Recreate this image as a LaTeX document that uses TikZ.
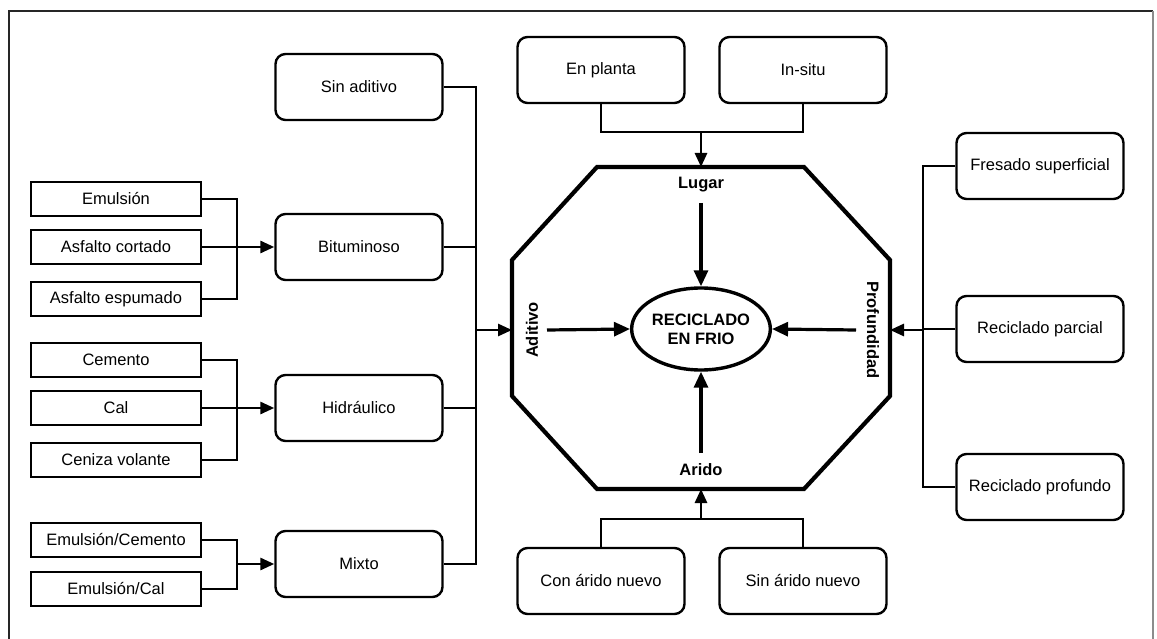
\documentclass[tikz,border=0pt]{standalone}
\usepackage{fontspec}
\setmainfont{Liberation Sans}
\usetikzlibrary{arrows.meta,shapes.geometric}
\begin{document}
\begin{tikzpicture}[x=1pt,y=-1pt,
  every node/.style={font=\fontsize{16.5}{19}\selectfont},
  sbox/.style={draw,line width=2.6pt,minimum width=170pt,minimum height=34pt,inner sep=0pt},
  rbox/.style={draw,line width=2.4pt,rounded corners=10pt,minimum width=167pt,minimum height=66pt,inner sep=0pt},
  conn/.style={line width=2.8pt},
  arr/.style={line width=2.8pt,-{Triangle[length=14pt,width=12pt]}},
  iarr/.style={line width=3.2pt,-{Triangle[length=16pt,width=14pt]}},
  lbl/.style={font=\fontsize{16.5}{19}\selectfont\bfseries}
]
\useasboundingbox (0,0) rectangle (1157,639);
% frame
\draw[line width=2.6pt,black!85] (9,639) -- (9,11) -- (1153,11);
\draw[line width=1.4pt,black!45] (1153,11) -- (1153,639);

% left small boxes
\node[sbox] (emu)  at (116,199) {Emulsión};
\node[sbox] (cort) at (116,247) {Asfalto cortado};
\node[sbox] (esp)  at (116,299) {Asfalto espumado};
\node[sbox] (cem)  at (116,360) {Cemento};
\node[sbox] (cal)  at (116,408) {Cal};
\node[sbox] (cen)  at (116,460) {Ceniza volante};
\node[sbox] (ecem) at (116,540) {Emulsión/Cemento};
\node[sbox] (ecal) at (116,589) {Emulsión/Cal};

% middle boxes
\node[rbox] (sinad) at (359,87)  {Sin aditivo};
\node[rbox] (bitu)  at (359,247) {Bituminoso};
\node[rbox] (hidr)  at (359,408) {Hidráulico};
\node[rbox] (mixto) at (359,564) {Mixto};

% top and bottom boxes
\node[rbox] (enp)   at (601,70)  {En planta};
\node[rbox] (insit) at (803,70)  {In-situ};
\node[rbox] (con)   at (601,581) {Con árido nuevo};
\node[rbox] (sinar) at (803,581) {Sin árido nuevo};

% right boxes
\node[rbox] (fres) at (1040,166) {Fresado superficial};
\node[rbox] (parc) at (1040,329) {Reciclado parcial};
\node[rbox] (prof) at (1040,487) {Reciclado profundo};

% octagon
\draw[line width=4.2pt,line join=miter]
  (597,167) -- (804,167) -- (890,260) -- (890,396) -- (804,489) -- (597,489) -- (512,396) -- (512,260) -- cycle;
\coordinate (octT) at (701,167);
\coordinate (octB) at (701,489);
\coordinate (octL) at (512,330);
\coordinate (octR) at (890,330);

% centre
\node[draw,ellipse,line width=3.4pt,minimum width=136pt,minimum height=82pt,inner sep=0pt,lbl,align=center] (rec) at (701,329) {RECICLADO\\EN FRIO};
\node[lbl] (lugar) at (701,185) {Lugar};
\node[lbl] (arido) at (701,470) {Arido};
\node[lbl,rotate=90] (adit) at (532,330) {Aditivo};
\node[lbl,rotate=-90] (profu) at (873,330) {Profundidad};
\draw[iarr] (701,203) -- (rec.north);
\draw[iarr] (701,453) -- (rec.south);
\draw[iarr] (547,330) -- (rec.west);
\draw[iarr] (856,330) -- (rec.east);

% left brackets
\coordinate (j1) at (237,247);
\coordinate (j2) at (237,408);
\coordinate (j3) at (237,564);
\draw[conn] (emu.east) -| (j1) |- (esp.east);
\draw[arr] (cort.east) -- (bitu.west);
\draw[conn] (cem.east) -| (j2) |- (cen.east);
\draw[arr] (cal.east) -- (hidr.west);
\draw[conn] (ecem.east) -| (j3) |- (ecal.east);
\draw[arr] (j3) -- (mixto.west);

% left bus
\coordinate (lbus) at (476,330);
\draw[conn] (sinad.east) -| (lbus) |- (mixto.east);
\draw[conn] (bitu.east) -- (bitu.east -| lbus);
\draw[conn] (hidr.east) -- (hidr.east -| lbus);
\draw[arr] (lbus) -- (octL);

% top bracket
\coordinate (tj) at (701,132);
\draw[conn] (enp.south) |- (tj) -| (insit.south);
\draw[arr] (tj) -- (octT);

% bottom bracket
\coordinate (bj) at (701,519);
\draw[conn] (con.north) |- (bj) -| (sinar.north);
\draw[arr] (bj) -- (octB);

% right bus
\coordinate (rbus) at (923,330);
\draw[conn] (fres.west) -| (rbus) |- (prof.west);
\draw[conn] (parc.west) -- (parc.west -| rbus);
\draw[arr] (rbus) -- (octR);
\end{tikzpicture}
\end{document}
